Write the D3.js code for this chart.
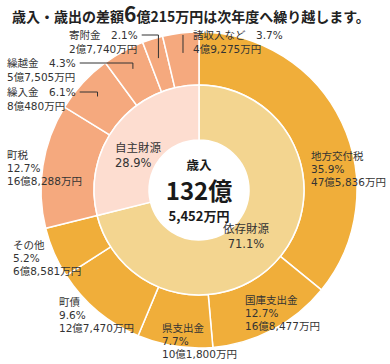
<!DOCTYPE html>
<html><head><meta charset="utf-8">
<script src="https://cdn.jsdelivr.net/npm/d3@7"></script>
<style>
html,body{margin:0;padding:0;background:#fff;}
svg{display:block;}
text{font-family:"DejaVu Sans","Noto Sans CJK JP",sans-serif;fill:#333;}
</style></head>
<body><svg id="chart" width="390" height="364"></svg>
<script>
// ---- data ----
const categories = ["地方交付税","国庫支出金","県支出金","町債","その他","町税","繰入金","繰越金","寄附金","諸収入など"];
const shares = [35.9,12.7,7.7,9.6,5.2,12.7,6.1,4.3,2.1,3.7];
const amounts = ["47億5,836万円","16億8,477万円","10億1,800万円","12億7,470万円","6億8,581万円","16億8,288万円","8億480万円","5億7,505万円","2億7,740万円","4億9,275万円"];
const groupOfCategory = [0,0,0,0,0,1,1,1,1,1];
const groups = ["依存財源","自主財源"];
const groupShares = [71.1,28.9];
const totalLines = ["歳入","132億","5,452万円"];
const titleParts = ["歳入・歳出の差額","6","億215万円は次年度へ繰り越します。"];

// ---- layout (positions/styles only) ----
const cx = 199, cy = 190;
const R = 158, rMid = 105, rHole = 50;
const outerColors = ["#F0AE3A","#F5A97E"];
const innerColors = ["#F3D590","#FDDDD0"];
// label anchors: [x, y, mode]  mode 0 = 3 stacked lines, 1 = 2 lines with leader
const labelPos = [
  [311,156,0],[245,300,0],[162,328,0],[59,302,0],[13,245,0],[7,155,0],
  [7,92,1],[7,63,1],[69,35,1],[193,35,1]
];
const groupLabelPos = [[246,229,"middle"],[115,148,"start"]];

const svg = d3.select("#chart");

// title
const title = svg.append("text").attr("x",12).attr("y",22)
  .style("font-family","'Noto Sans CJK JP',sans-serif").style("font-weight","bold")
  .style("font-size","14px").style("fill","#222");
title.append("tspan").text(titleParts[0]);
title.append("tspan").text(titleParts[1]).style("font-size","21px");
title.append("tspan").text(titleParts[2]);

const pie = d3.pie().sort(null).value(d=>d);
const outerArcs = pie(shares);
const innerArcs = pie(groupShares);

const g = svg.append("g").attr("transform",`translate(${cx},${cy})`);
const arcOuter = d3.arc().innerRadius(rMid).outerRadius(R);
const arcInner = d3.arc().innerRadius(rHole).outerRadius(rMid);

g.selectAll("path.outer").data(outerArcs).join("path").attr("class","outer")
  .attr("d",arcOuter).attr("fill",(d,i)=>outerColors[groupOfCategory[i]])
  .attr("stroke","#fff").attr("stroke-width",1.5);
g.selectAll("path.inner").data(innerArcs).join("path").attr("class","inner")
  .attr("d",arcInner).attr("fill",(d,i)=>innerColors[i])
  .attr("stroke","#fff").attr("stroke-width",1.5);
g.append("circle").attr("r",rHole).attr("fill","#fff");

// center text
const ct = [[166,"12.5px"],[192,"24px"],[216,"13px"]];
totalLines.forEach((t,i)=>{
  svg.append("text").attr("x",cx).attr("y",ct[i][0]).attr("dy","0.35em")
    .attr("text-anchor","middle")
    .style("font-family","'Noto Sans CJK JP',sans-serif").style("font-weight","bold")
    .style("font-size",ct[i][1]).style("fill","#1a1a1a").text(t);
});

// group labels
groups.forEach((name,i)=>{
  const p = groupLabelPos[i];
  const t = svg.append("text").attr("text-anchor",p[2]).style("font-size","11.5px")
    .style("fill","#333");
  t.append("tspan").attr("x",p[0]).attr("y",p[1]).attr("dy","0.35em").text(name);
  t.append("tspan").attr("x",p[0]).attr("y",p[1]+15).attr("dy","0.35em").text(groupShares[i].toFixed(1)+"%");
});

// outer labels
const leaderArc = d3.arc().innerRadius(130).outerRadius(146);
categories.forEach((name,i)=>{
  const [x,y,mode] = labelPos[i];
  const t = svg.append("text").style("font-size","10.5px");
  const pct = shares[i].toFixed(1)+"%";
  if(mode===0){
    [name,pct,amounts[i]].forEach((s,k)=>{
      t.append("tspan").attr("x",x).attr("y",y+k*13.2).attr("dy","0.35em").text(s);
    });
  } else {
    const l1 = t.append("tspan").attr("x",x).attr("y",y).attr("dy","0.35em").text(name+"\u3000"+pct);
    t.append("tspan").attr("x",x).attr("y",y+14.5).attr("dy","0.35em").text(amounts[i]);
    const w = l1.node().getComputedTextLength();
    const c = leaderArc.centroid(outerArcs[i]);
    const ex = cx + c[0], ey = cy + c[1];
    const sx = ex > x ? x + w + 4 : x - 10;
    svg.append("path").attr("d",`M${sx},${y}H${ex}V${ey}`)
      .attr("fill","none").attr("stroke","#333").attr("stroke-width",1);
  }
});
</script></body></html>
